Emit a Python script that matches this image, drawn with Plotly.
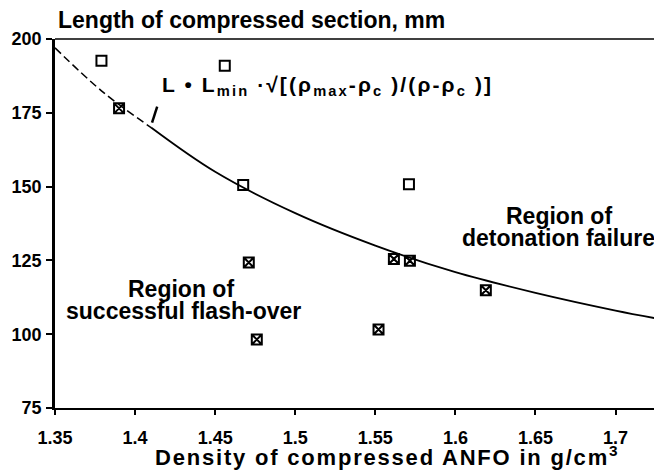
import plotly.graph_objects as go

# Measured points (density g/cm3, length mm)
open_x = [1.379, 1.456, 1.4675, 1.571]
open_y = [192.6, 190.9, 150.5, 150.8]

cross_x = [1.390, 1.471, 1.476, 1.552, 1.5616, 1.5716, 1.619]
cross_y = [176.5, 124.3, 98.2, 101.6, 125.5, 124.9, 114.9]

# Curve
curve_dash_x = [1.35, 1.38, 1.41]
curve_dash_y = [197, 182, 170]
curve_x = [1.41, 1.45, 1.50, 1.55, 1.60, 1.65, 1.70, 1.729]
curve_y = [170, 155, 141, 130, 121, 114, 108, 105]

x_ticks = [1.35, 1.4, 1.45, 1.5, 1.55, 1.6, 1.65, 1.7]
x_ticktext = ["1.35", "1.4", "1.45", "1.5", "1.55", "1.6", "1.65", "1.7"]
y_ticks = [75, 100, 125, 150, 175, 200]

FONT = "Liberation Sans"

fig = go.Figure()
fig.add_trace(go.Scatter(x=curve_dash_x, y=curve_dash_y, mode="lines",
                         line=dict(color="black", width=1.5, dash="8px,4px", shape="spline"),
                         showlegend=False, hoverinfo="skip"))
fig.add_trace(go.Scatter(x=curve_x, y=curve_y, mode="lines",
                         line=dict(color="black", width=1.8, shape="spline"),
                         showlegend=False, hoverinfo="skip"))
fig.add_trace(go.Scatter(x=open_x, y=open_y, mode="markers",
                         marker=dict(symbol="square-open", size=10, color="black",
                                     line=dict(width=2, color="black")),
                         showlegend=False))
fig.add_trace(go.Scatter(x=cross_x, y=cross_y, mode="markers",
                         marker=dict(symbol="square-x-open", size=10, color="black",
                                     line=dict(width=2, color="black")),
                         showlegend=False))

fig.update_layout(
    width=654, height=462,
    margin=dict(l=47, r=0, t=31, b=62),
    plot_bgcolor="white", paper_bgcolor="white",
    font=dict(family=FONT, color="black", size=18, weight="bold"),
    xaxis=dict(range=[1.35, 1.729], tickvals=x_ticks, ticktext=x_ticktext,
               showgrid=False, zeroline=False, showline=True, linecolor="black",
               linewidth=2, ticks="outside", ticklen=5, tickwidth=2, tickcolor="black",
               tickfont=dict(family=FONT, size=18, weight="bold"), ticklabelstandoff=7),
    yaxis=dict(range=[75, 200], tickvals=y_ticks,
               showgrid=False, zeroline=False, showline=True, linecolor="black",
               linewidth=2.5, ticks="outside", ticklen=6, tickwidth=2, tickcolor="black",
               tickfont=dict(family=FONT, size=18, weight="bold"), ticklabelstandoff=1),
)

# top frame line and faint right frame line
fig.add_shape(type="line", xref="paper", yref="paper", x0=0, x1=1, y0=1, y1=1,
              line=dict(color="black", width=1.5))
fig.add_shape(type="line", xref="paper", yref="paper", x0=1, x1=1, y0=0, y1=1,
              line=dict(color="#bbbbbb", width=1, dash="dash"))
# pointer from formula to curve
fig.add_shape(type="line", x0=1.4138, y0=177.1, x1=1.4106, y1=171.7,
              line=dict(color="black", width=2.5))

fig.add_annotation(xref="paper", yref="paper", x=0, y=1, xshift=1, yshift=19,
                   xanchor="left", yanchor="middle", showarrow=False,
                   text="Length of compressed section, mm",
                   font=dict(family=FONT, size=23, weight="bold"))
fig.add_annotation(xref="paper", yref="paper", x=0.547, y=0, yshift=-48,
                   xanchor="center", yanchor="middle", showarrow=False,
                   text='<span style="letter-spacing:1.8px">Density of compressed ANFO in g/cm<sup>3</sup></span>',
                   font=dict(family=FONT, size=22, weight="bold"))
fig.add_annotation(x=1.4156, y=184.0, xanchor="left", yanchor="middle", showarrow=False,
                   text='<span style="letter-spacing:2.1px">L • L<sub>min</sub> ·√[(ρ<sub>max</sub>-ρ<sub>c</sub> )/(ρ-ρ<sub>c</sub> )]</span>',
                   font=dict(family=FONT, size=21, weight="bold"))
# region labels (one annotation per line for tight line spacing)
fig.add_annotation(x=1.6644, y=140.0, xanchor="center", yanchor="middle", showarrow=False,
                   text="Region of", font=dict(family=FONT, size=23, weight="bold"))
fig.add_annotation(x=1.6644, y=132.6, xanchor="center", yanchor="middle", showarrow=False,
                   text="detonation failure", font=dict(family=FONT, size=23, weight="bold"))
fig.add_annotation(x=1.4288, y=115.4, xanchor="center", yanchor="middle", showarrow=False,
                   text="Region of", font=dict(family=FONT, size=23, weight="bold"))
fig.add_annotation(x=1.430, y=108.0, xanchor="center", yanchor="middle", showarrow=False,
                   text="successful flash-over", font=dict(family=FONT, size=23, weight="bold"))

fig.write_html("out.html")
